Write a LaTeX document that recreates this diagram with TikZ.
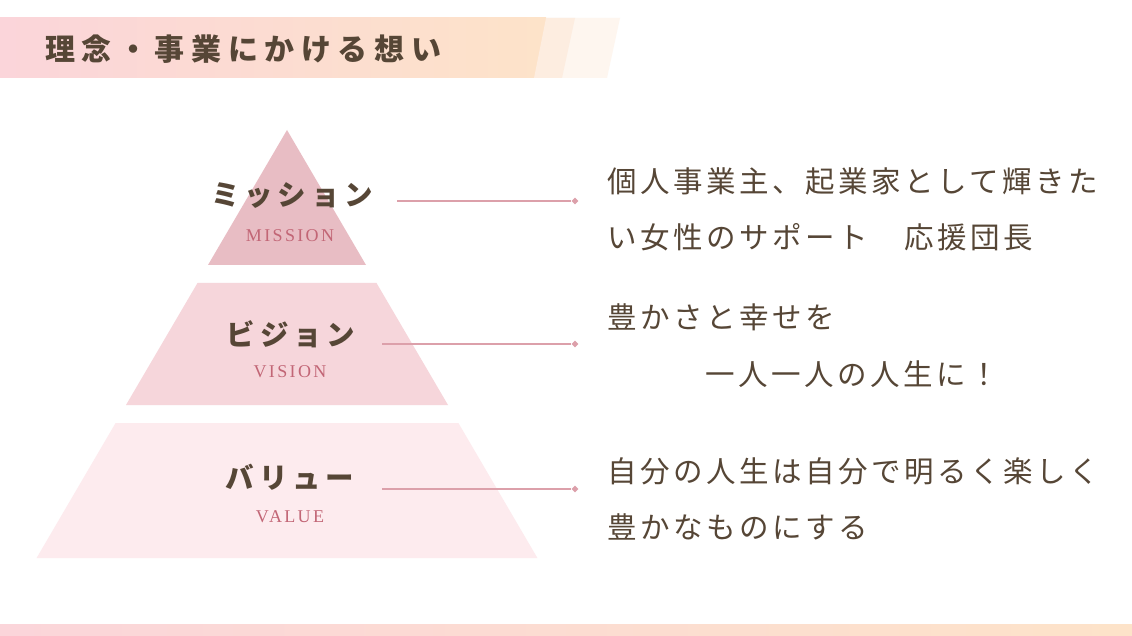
\documentclass[tikz,border=0pt]{standalone}
\usepackage{fontspec}
\usetikzlibrary{shapes.geometric}
\newfontfamily\jpbody{Noto Sans CJK JP}[LetterSpace=12]
\newfontfamily\jptitle{Noto Sans CJK JP}[LetterSpace=22]
\newfontfamily\jplabel{Noto Sans CJK JP}[LetterSpace=17]
\newfontfamily\enlabel{Liberation Serif}[LetterSpace=13]
\definecolor{txt}{HTML}{564636}
\definecolor{lvA}{HTML}{E8BDC4}
\definecolor{lvB}{HTML}{F6D6DB}
\definecolor{lvC}{HTML}{FDEBEE}
\definecolor{enc}{HTML}{C26676}
\definecolor{conn}{HTML}{DCA0AA}
\definecolor{barL}{HTML}{FBD5DA}
\definecolor{barR}{HTML}{FDE3C9}
\definecolor{paleA}{HTML}{FDEDE0}
\definecolor{paleB}{HTML}{FEF6EF}
\tikzset{
  body/.style={anchor=west, inner sep=0pt, text=txt, font=\jpbody\fontsize{29.5}{29.5}\selectfont},
  ttl/.style={anchor=west, inner sep=0pt, text=txt, font=\jptitle\bfseries\fontsize{30}{30}\selectfont},
  kana/.style={inner sep=0pt, text=txt, font=\jplabel\bfseries\fontsize{28.5}{28.5}\selectfont},
  eng/.style={inner sep=0pt, text=enc, font=\enlabel\fontsize{18}{18}\selectfont},
  pin/.style={diamond, fill=conn, inner sep=0pt, minimum size=7pt},
  link/.style={draw=conn, line width=1.5pt}
}
\begin{document}
\begin{tikzpicture}[x=1pt,y=-1pt]
\useasboundingbox (0,0) rectangle (1132,636);
\fill[white] (0,0) rectangle (1132,636);
% title bar
\shade[left color=barL, right color=barR] (0,18) rectangle (546,78);
\fill[paleB] (546,18) -- (620,18) -- (607,78) -- (546,78) -- cycle;
\fill[paleA] (546,18) -- (575,18) -- (562,78) -- (534,78) -- cycle;
\node[ttl] (title) at (45,49) {理念・事業にかける想い};
% bottom bar
\shade[left color=barL, right color=barR] (0,624) rectangle (1132,636);
% pyramid
\fill[lvA] (287,130) -- (366,265) -- (208,265) -- cycle;
\fill[lvB] (197.5,283) -- (376.5,283) -- (448,405) -- (126,405) -- cycle;
\fill[lvC] (115.6,423) -- (458.4,423) -- (537.4,558) -- (36.6,558) -- cycle;
% level labels
\node[kana] (mis) at (292,196) {ミッション};
\node[eng] (misE) at (290,236) {MISSION};
\node[kana] (vis) at (291,334) {ビジョン};
\node[eng] (visE) at (290,372) {VISION};
\node[kana] (val) at (290,477) {バリュー};
\node[eng] (valE) at (290,517) {VALUE};
% connectors
\coordinate (ms) at (397,201);
\node[pin] (md) at (575,201) {};
\draw[link] (ms) -- (md);
\coordinate (vs) at (382,344);
\node[pin] (vd) at (575,344) {};
\draw[link] (vs) -- (vd);
\coordinate (ls) at (382,489);
\node[pin] (ld) at (575,489) {};
\draw[link] (ls) -- (ld);
% texts
\node[body] (m1) at (607,181) {個人事業主、起業家として輝きた};
\node[body] (m2) at (607,237) {い女性のサポート　応援団長};
\node[body] (v1) at (607,317) {豊かさと幸せを};
\node[body] (v2) at (705,374) {一人一人の人生に！};
\node[body] (l1) at (607,471) {自分の人生は自分で明るく楽しく};
\node[body] (l2) at (607,527) {豊かなものにする};
\end{tikzpicture}
\end{document}
